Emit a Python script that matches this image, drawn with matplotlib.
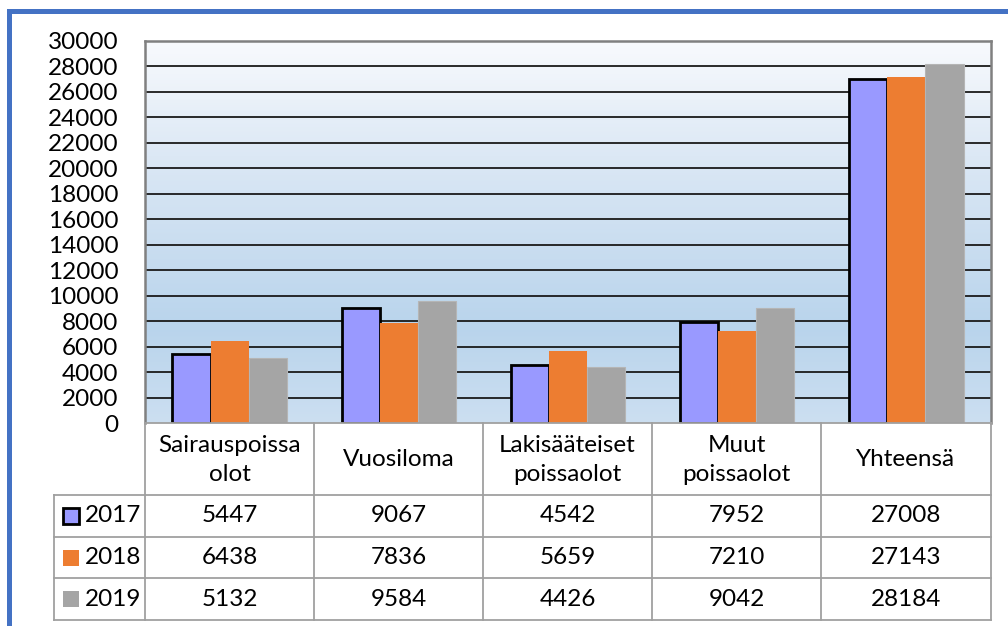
import matplotlib
matplotlib.use("Agg")
import matplotlib.pyplot as plt
import numpy as np
from matplotlib.colors import LinearSegmentedColormap
from matplotlib.patches import Rectangle

plt.rcParams['font.family'] = ['Lato', 'DejaVu Sans']

categories = ["Sairauspoissa\nolot", "Vuosiloma", "Lakisääteiset\npoissaolot", "Muut\npoissaolot", "Yhteensä"]
years = ["2017", "2018", "2019"]
v2017 = [5447, 9067, 4542, 7952, 27008]
v2018 = [6438, 7836, 5659, 7210, 27143]
v2019 = [5132, 9584, 4426, 9042, 28184]
yticks = list(range(0, 30001, 2000))

series = [v2017, v2018, v2019]
colors = ["#9999FF", "#ED7D31", "#A5A5A5"]
edges = ["#000000", "#ED7D31", "#B5B5B5"]
lws = [2.0, 0.0, 0.8]

W, H = 1008, 626
fig = plt.figure(figsize=(W / 100, H / 100), dpi=100)

def fx(x): return x / W
def fy(y): return 1 - y / H

# main plot axes
L, R, T, B = 145, 991, 41, 423
ax = fig.add_axes([fx(L), fy(B), fx(R) - fx(L), fy(T) - fy(B)])
n = len(categories)
ax.set_xlim(-0.5, n - 0.5)
ax.set_ylim(0, 30000)

# gradient background (row 0 = top)
grad = np.linspace(0, 1, 256).reshape(-1, 1)
cmap = LinearSegmentedColormap.from_list("bg", [(0, "#F8FAFD"), (0.3, "#DCE8F5"), (0.75, "#B9D4EC"), (1.0, "#CCDFF1")])
ax.imshow(grad, extent=[-0.5, n - 0.5, 0, 30000], aspect="auto", cmap=cmap, zorder=0, origin="upper")

for yv in yticks[1:-1]:
    ax.axhline(yv, color="#1a1a1a", lw=1.3, zorder=1)

bw = 0.225
x = np.arange(n)
for i, (vals, c, ec, lw) in enumerate(zip(series, colors, edges, lws)):
    ax.bar(x + (i - 1) * bw, vals, width=bw, color=c, edgecolor=ec, linewidth=lw, zorder=3)

ax.set_yticks(yticks)
ax.set_yticklabels([str(v) for v in yticks], fontsize=17.5)
ax.tick_params(axis="y", length=0, pad=19)
ax.set_xticks([])
for s in ["left", "top", "right"]:
    ax.spines[s].set_color("#808080")
    ax.spines[s].set_linewidth(1.8)
ax.spines["bottom"].set_visible(False)

# overlay for table and frame in pixel coords
ov = fig.add_axes([0, 0, 1, 1])
ov.set_xlim(0, W)
ov.set_ylim(H, 0)
ov.axis("off")
ov.patch.set_alpha(0)

gc = "#A0A0A0"
glw = 1.3
cols = [145, 314, 483, 652, 821, 991]
rows = [495, 537, 578, 620]
ov.plot([145, 991], [423, 423], color=gc, lw=glw)
for yy in rows:
    ov.plot([54, 991], [yy, yy], color=gc, lw=glw)
for xx in cols:
    ov.plot([xx, xx], [423, 620], color=gc, lw=glw)
ov.plot([54, 54], [495, 620], color=gc, lw=glw)

for j, cat in enumerate(categories):
    cx = (cols[j] + cols[j + 1]) / 2
    ov.text(cx, 460, cat, ha="center", va="center", fontsize=17.5, linespacing=1.45)
    for i, vals in enumerate(series):
        cy = (rows[i] + rows[i + 1]) / 2
        ov.text(cx, cy, str(vals[j]), ha="center", va="center", fontsize=17.5)

for i, yr in enumerate(years):
    cy = (rows[i] + rows[i + 1]) / 2
    ov.add_patch(Rectangle((63, cy - 8), 16, 16, facecolor=colors[i], edgecolor=edges[i] if i == 0 else colors[i],
                           linewidth=2.0 if i == 0 else 0))
    ov.text(85, cy, yr, ha="left", va="center", fontsize=17.5)

# blue frame
ov.plot([9, 9], [H, 11], color="#4472C4", lw=3.6, solid_capstyle="projecting")
ov.plot([9, W], [11, 11], color="#4472C4", lw=3.6, solid_capstyle="projecting")

fig.savefig("out.png", dpi=100, facecolor="white")
